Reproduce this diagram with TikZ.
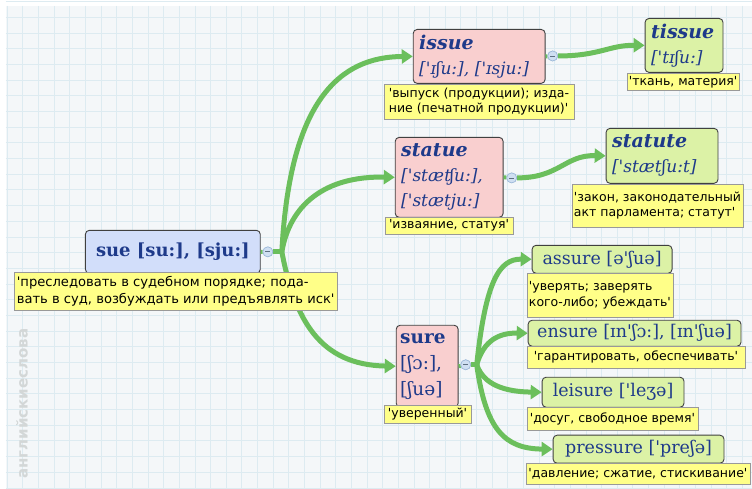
\documentclass[tikz,border=0pt]{standalone}
\usepackage{fontspec}
\setmainfont{DejaVu Sans}
\newfontfamily\hwfont{DejaVu Serif}
\newfontfamily\rufont{DejaVu Sans}
\usetikzlibrary{arrows.meta}
\definecolor{navy}{HTML}{1E3A8A}
\definecolor{pinkf}{HTML}{F9CFCF}
\definecolor{greenf}{HTML}{DCF2A6}
\definecolor{bluef}{HTML}{D2DEFA}
\definecolor{yel}{HTML}{FFFF88}
\definecolor{conn}{HTML}{6BBF5C}
\definecolor{gridc}{HTML}{DDEBF1}
\definecolor{bgc}{HTML}{F4F7F9}
\definecolor{circf}{HTML}{CFDFF2}
\definecolor{circd}{HTML}{9DB9D9}
\definecolor{wmc}{HTML}{D3D7D7}
\newcommand\hwbold[1]{{\fontsize{19}{25}\selectfont\bfseries #1}}
\begin{document}
\begin{tikzpicture}[x=1pt,y=-1pt,
  hw/.style={draw=black!75, line width=0.9pt, rounded corners=4pt, anchor=north west,
    inner xsep=6pt, inner ysep=2pt, text=navy, align=left},
  lab/.style={draw=black!40, line width=0.6pt, fill=yel, anchor=north west,
    inner xsep=2pt, inner ysep=1pt, align=left, text=black,
    font=\rufont\fontsize{12.5}{15.5}\selectfont},
  bigb/.style={font=\hwfont\bfseries\fontsize{18}{21}\selectfont},
  itf/.style={font=\hwfont\itshape\fontsize{17}{25}\selectfont},
  upf/.style={font=\hwfont\fontsize{18.5}{26}\selectfont},
  onef/.style={font=\hwfont\fontsize{17.5}{21}\selectfont},
  cc/.style={circle, draw=circd, fill=circf, line width=0.6pt, minimum size=10pt, inner sep=0pt},
  link/.style={conn, line width=5pt, -{Triangle[length=11pt,width=14pt]}},
  stub/.style={conn, line width=4pt}
]
% background and grid
\fill[white] (0,0) rectangle (752,488);
\fill[bgc] (6,6) rectangle (752,488);
\foreach \i in {0,...,47} {\draw[gridc, line width=0.9pt] (7.3+15.65*\i,6) -- (7.3+15.65*\i,488);}
\foreach \i in {0,...,31} {\draw[gridc, line width=0.9pt] (6,1.6+15.7*\i) -- (752,1.6+15.7*\i);}
\useasboundingbox (0,0) rectangle (752,488);

% watermark
\node[rotate=90, anchor=west, text=wmc, inner sep=0pt,
  font=\rufont\bfseries\fontsize{15}{15}\selectfont] (wm) at (22,479) {английскиеслова};

% headword boxes
\node[hw, fill=bluef, bigb, minimum width=175pt, minimum height=43pt, align=center] (sue) at (85,230) {sue [su:], [sju:]};
\node[hw, fill=pinkf, itf, text width=120pt, minimum height=54pt] (issue) at (413,29) {\hwbold{issue}\\{[}'ɪʃu:], ['ɪsju:]};
\node[hw, fill=greenf, itf, text width=66pt, minimum height=54pt] (tissue) at (645,18) {\hwbold{tissue}\\{[}'tɪʃu:]};
\node[hw, fill=pinkf, itf, text width=96pt, minimum height=80pt] (statue) at (395,137) {\hwbold{statue}\\{[}'stæʧu:],\\{[}'stætju:]};
\node[hw, fill=greenf, itf, text width=100pt, minimum height=55pt] (statute) at (606,128) {\hwbold{statute}\\{[}'stætʃu:t]};
\node[hw, fill=pinkf, upf, inner xsep=4pt, text width=54pt, minimum height=82pt] (sure) at (396,325) {\textbf{sure}\\{[}ʃɔ:],\\{[}ʃuə]};
\node[hw, fill=greenf, onef, align=center, minimum width=140pt, minimum height=28pt] (assure) at (532,245) {assure [ə'ʃuə]};
\node[hw, fill=greenf, onef, align=center, minimum width=213pt, minimum height=26pt] (ensure) at (528,320) {ensure [ɪn'ʃɔ:], [ɪn'ʃuə]};
\node[hw, fill=greenf, onef, align=center, minimum width=142pt, minimum height=30pt] (leisure) at (542,377) {leisure ['leʒə]};
\node[hw, fill=greenf, onef, align=center, minimum width=171pt, minimum height=28pt] (pressure) at (553,435) {pressure ['preʃə]};

% circles
\node[cc] (cSue) at (268,252) {};
\node[cc] (cIssue) at (553,56) {};
\node[cc] (cStatue) at (512,178) {};
\node[cc] (cSure) at (466,365) {};
\coordinate (jSue) at (282,252);
\coordinate (jSure) at (477,365);

% connectors
\draw[stub] (sue.east) -- (cSue);
\draw[stub, line width=5pt] (cSue) -- (jSue);
\draw[link] (jSue) .. controls (290,100) and (340,57) .. (issue.west);
\draw[link] (jSue) .. controls (290,205) and (325,176) .. (statue.west);
\draw[link] (jSue) .. controls (295,320) and (320,365) .. (sure.west);
\draw[link] (cIssue) .. controls (600,56) and (610,45) .. (tissue.west);
\draw[link] (cStatue) .. controls (560,178) and (565,155) .. (statute.west);
\draw[stub] (sure.east) -- (cSure);
\draw[stub, line width=5pt] (cSure) -- (jSure);
\draw[link] (jSure) .. controls (486,280) and (500,259) .. (assure.west);
\draw[link] (jSure) .. controls (484,340) and (500,333) .. (ensure.west);
\draw[link] (jSure) .. controls (484,385) and (505,392) .. (leisure.west);
\draw[link] (jSure) .. controls (486,430) and (505,449) .. (pressure.west);
\draw[stub] (issue.east) -- (cIssue);
\draw[stub] (statue.east) -- (cStatue);

% circles on top
\foreach \c in {cSue,cIssue,cStatue,cSure} {
  \node[cc] at (\c) {};
  \draw[circd!60!black, line width=0.7pt] ([xshift=-2.5pt]\c.center) -- ([xshift=2.5pt]\c.center);
}

% labels
\node[lab, font=\rufont\fontsize{13.1}{16.5}\selectfont, minimum width=323pt, minimum height=38pt] (lsue) at (14,272) {'преследовать в судебном порядке; пода-\\вать в суд, возбуждать или предъявлять иск'};
\node[lab, minimum width=190pt, minimum height=35pt] (lissue) at (384,84) {'выпуск (продукции); изда-\\ние (печатной продукции)'};
\node[lab, minimum width=105pt, minimum height=17pt] (ltissue) at (627,73) {'ткань, материя'};
\node[lab, minimum width=128pt, minimum height=17pt] (lstatue) at (385,217) {'изваяние, статуя'};
\node[lab, minimum width=171pt, minimum height=43pt] (lstatute) at (572,184) {'закон, законодательный\\акт парламента; статут'};
\node[lab, minimum width=87pt, minimum height=18pt] (lsure) at (384,405) {'уверенный'};
\node[lab, minimum width=86pt, minimum height=44pt] (lassure) at (527,273) {'уверять; заверять\\кого-либо; убеждать'};
\node[lab, minimum width=218pt, minimum height=22pt] (lensure) at (527,346) {'гарантировать, обеспечивать'};
\node[lab, minimum width=171pt, minimum height=23pt] (lleisure) at (527,407) {'досуг, свободное время'};
\node[lab, minimum width=224pt, minimum height=21pt] (lpressure) at (526,463) {'давление; сжатие, стискивание'};
\end{tikzpicture}
\end{document}
